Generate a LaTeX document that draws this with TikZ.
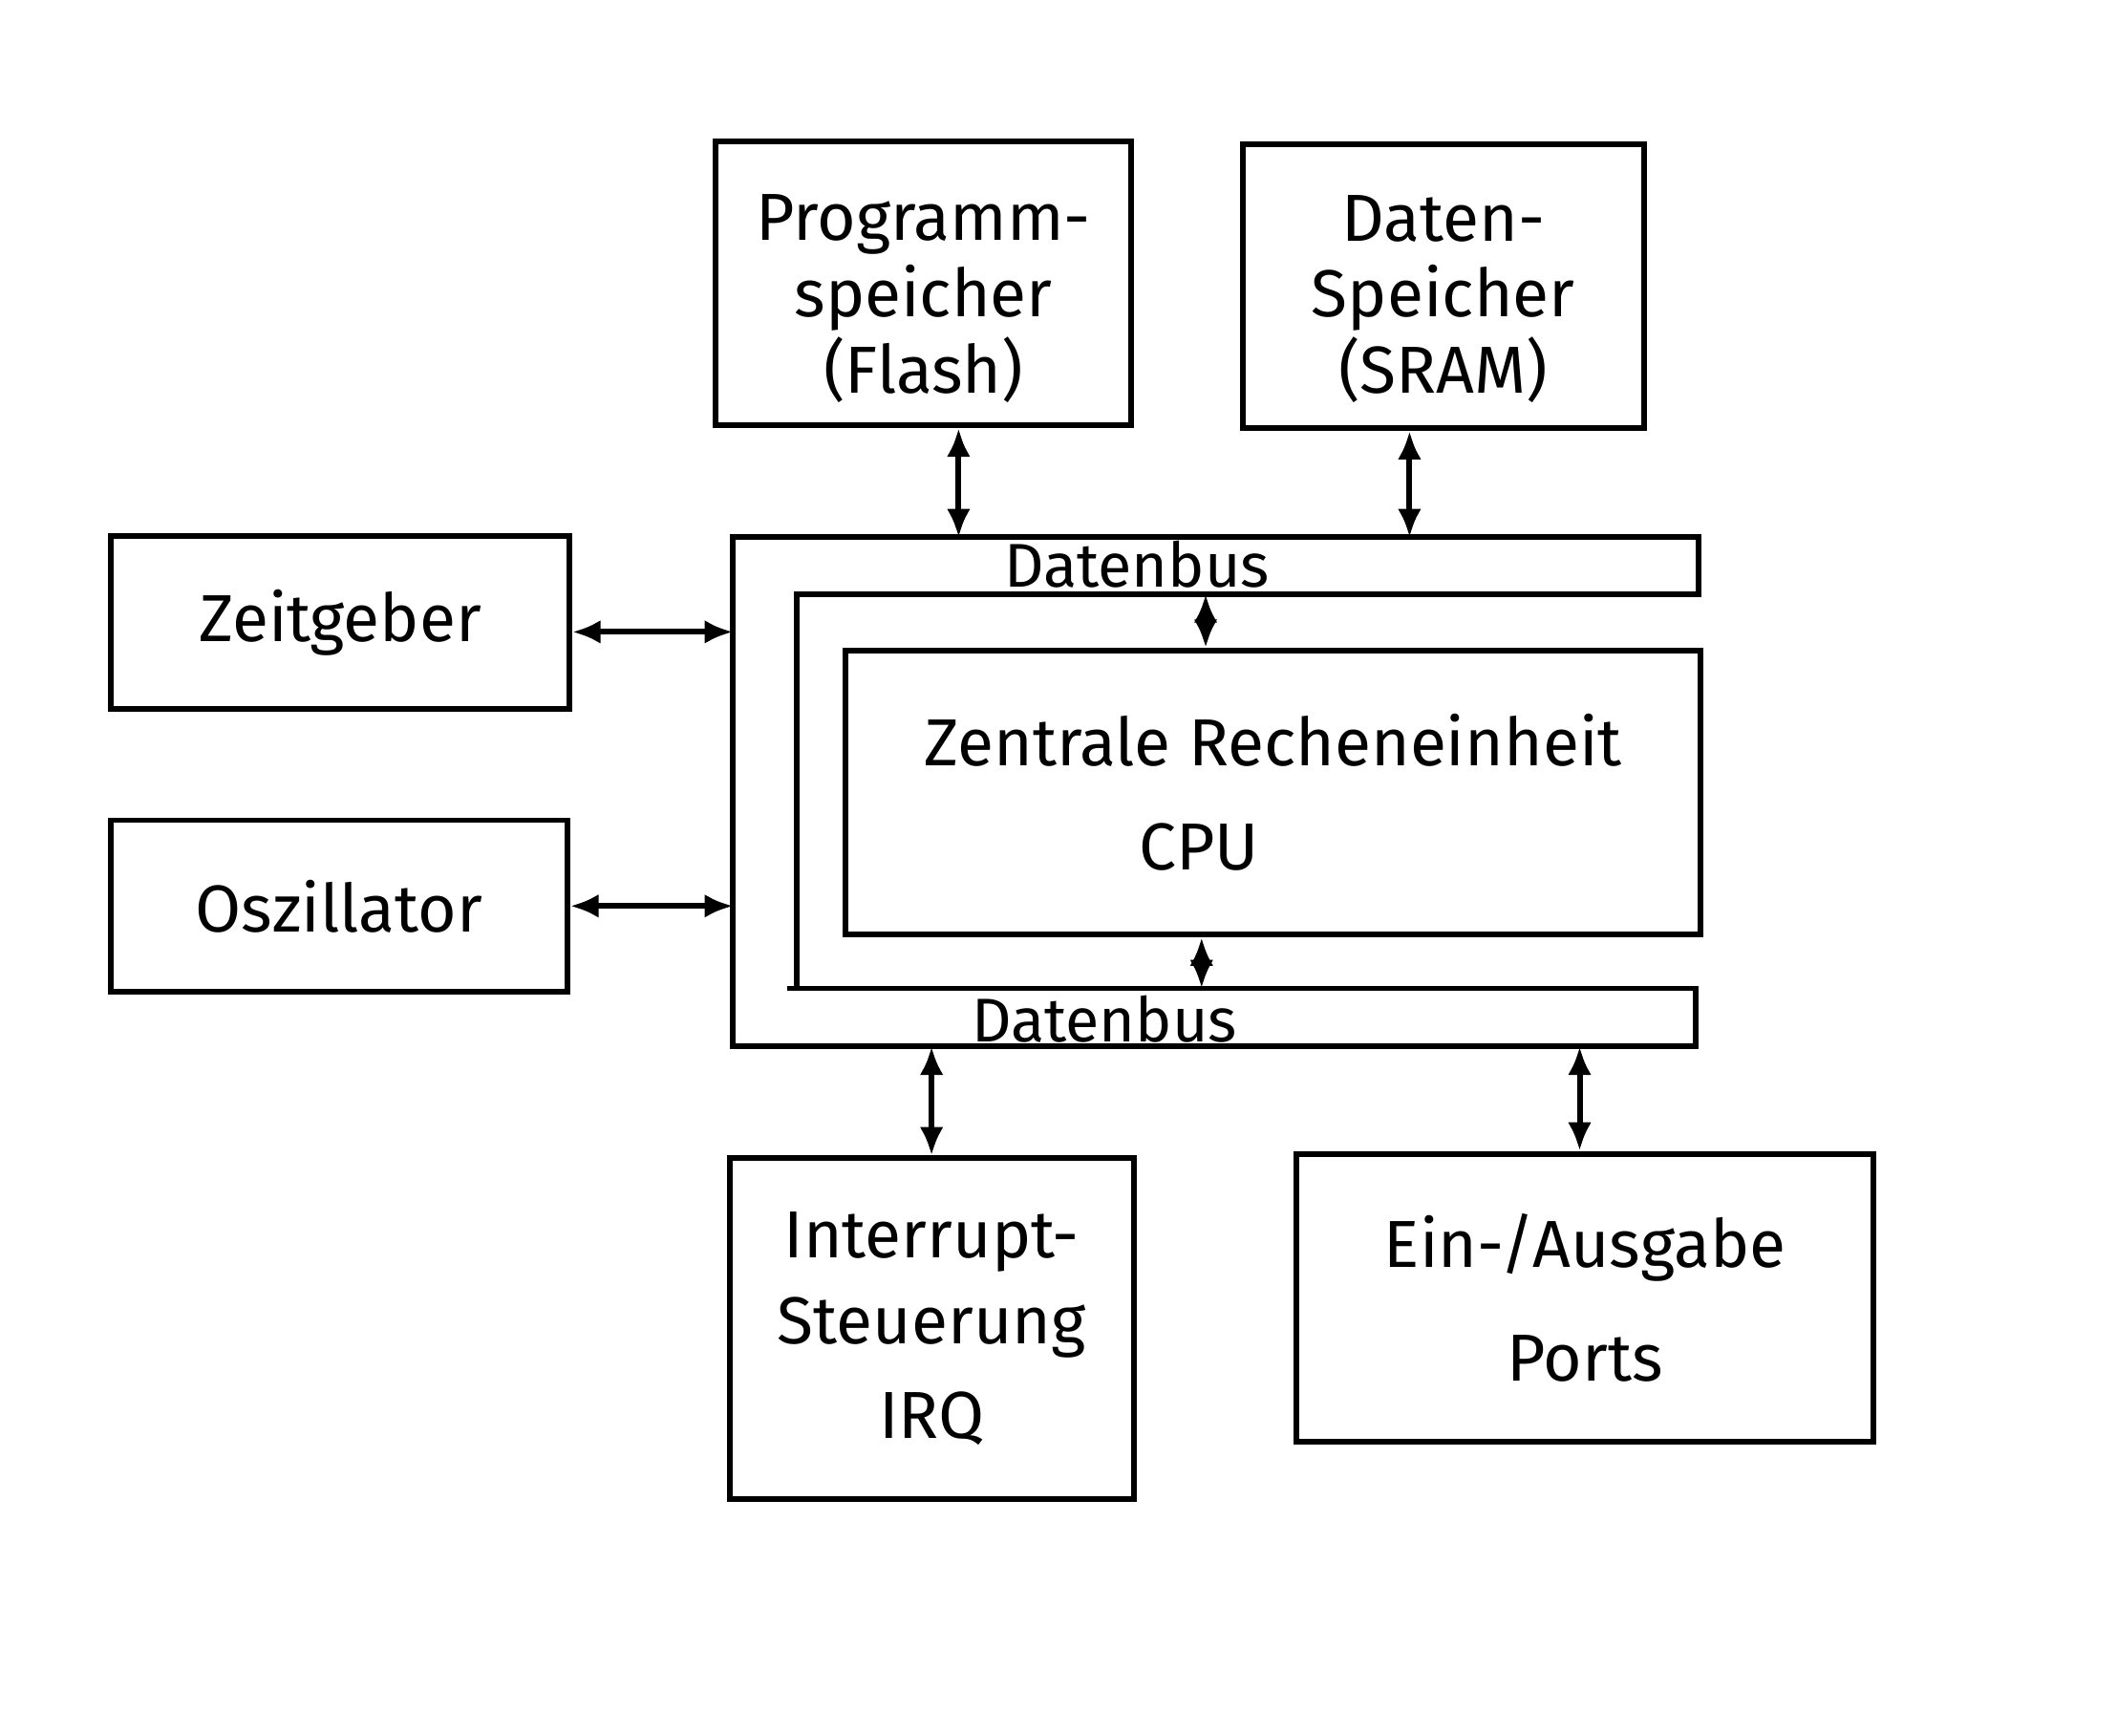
\documentclass[tikz,border=0pt]{standalone}
\usepackage{fontspec}
\setmainfont{Fira Sans}
\usetikzlibrary{arrows.meta}

\tikzset{
  block/.style={draw, line width=1.2pt, inner sep=0pt, align=center,
    font=\fontsize{14}{16}\selectfont},
  link/.style={line width=1.2pt,
    {Latex[length=6pt,width=5pt]}-{Latex[length=6pt,width=5pt]}},
  buslabel/.style={inner sep=0pt, font=\fontsize{13}{14}\selectfont},
}

\begin{document}
\begin{tikzpicture}[x=0.01cm, y=-0.01cm]
  \useasboundingbox[fill=white] (0,0) rectangle (1568,1285);

  % speicher
  \node[block, minimum width=3.08cm, minimum height=2.10cm] (flash) at (684,210)
    {\rule{0pt}{16pt}Programm-\\speicher\\(Flash)};
  \node[block, minimum width=2.97cm, minimum height=2.10cm] (sram) at (1069,212)
    {\rule{0pt}{15pt}Daten-\\Speicher\\(SRAM)};

  % takt
  \node[block, minimum width=3.39cm, minimum height=1.28cm] (zeit) at (252,461)
    {Zeitgeber};
  \node[block, minimum width=3.38cm, minimum height=1.27cm] (osz) at (251,671)
    {Oszillator};

  % bus
  \draw[line width=1.2pt] (543,398) -- (1258,398) -- (1258,440) -- (590,440)
    -- (590,732) -- (1256,732) -- (1256,775) -- (543,775) -- cycle;
  \draw[line width=1.2pt] (583,732) -- (590,732);
  \node[buslabel] (bus1) at (842,418) {Datenbus};
  \node[buslabel] (bus2) at (818,755) {Datenbus};
  \coordinate (busL) at (543,0);
  \coordinate (busT) at (0,398);
  \coordinate (busI) at (0,440);
  \coordinate (busJ) at (0,732);
  \coordinate (busB) at (0,775);

  \node[block, minimum width=6.33cm, minimum height=2.10cm] (cpu) at (943,587)
    {Zentrale Recheneinheit\\[6pt]\hspace*{-1.1cm}CPU};

  % peripherie
  \node[block, minimum width=2.99cm, minimum height=2.52cm] (irq) at (690,984)
    {Interrupt-\\[2pt]Steuerung\\[4pt]IRQ};
  \node[block, minimum width=4.27cm, minimum height=2.13cm] (io) at (1174,961)
    {Ein-/Ausgabe\\[8pt]Ports};

  % verbindungen
  \coordinate (a1) at (710,0);
  \coordinate (a2) at (1044,0);
  \coordinate (a3) at (893,0);
  \coordinate (a4) at (890,0);
  \coordinate (a5) at (690,0);
  \coordinate (a6) at (1170,0);
  \draw[link] (a1 |- flash.south) -- (a1 |- busT);
  \draw[link] (a2 |- sram.south) -- (a2 |- busT);
  \draw[link] ([yshift=-0.07cm]zeit.east) -- ([yshift=-0.07cm]zeit.east -| busL);
  \draw[link] (osz.east) -- (osz.east -| busL);
  \draw[link] (a3 |- busI) -- (a3 |- cpu.north);
  \draw[link] (a4 |- cpu.south) -- (a4 |- busJ);
  \draw[link] (a5 |- busB) -- (a5 |- irq.north);
  \draw[link] (a6 |- busB) -- (a6 |- io.north);
\end{tikzpicture}
\end{document}
